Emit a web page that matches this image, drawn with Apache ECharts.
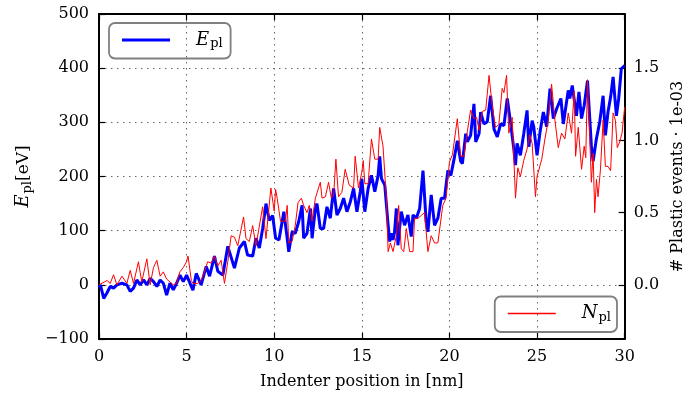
<!DOCTYPE html>
<html><head><meta charset="utf-8">
<script src="https://cdn.jsdelivr.net/npm/echarts@6/dist/echarts.min.js"></script>
<style>html,body{margin:0;padding:0;background:#fff}#c{width:694px;height:395px}</style>
</head><body><div id="c"></div>
<script>
// Indenter position [nm] and plastic energy E_pl [eV]
const eX=[0,0.08,0.27,0.45,0.64,0.83,1.02,1.31,1.59,1.78,1.97,2.16,2.35,2.54,2.73,2.92,3.11,3.3,3.49,3.67,3.86,4.05,4.24,4.43,4.62,4.81,5.0,
5.36,5.55,5.83,6.12,6.31,6.59,6.78,7.07,7.35,7.73,8.01,8.3,8.48,8.77,8.96,9.15,9.34,9.53,9.72,9.91,
10.08,10.27,10.55,10.74,10.83,11.02,11.2,11.4,11.59,11.68,11.87,12.07,12.16,12.35,12.44,12.63,12.82,13.01,13.2,13.39,13.58,13.77,13.96,14.15,14.34,14.53,14.72,14.91,15.0,
15.17,15.36,15.55,15.74,15.93,16.02,16.12,16.31,16.5,16.59,16.69,16.78,16.87,16.97,17.06,17.25,17.44,17.63,17.82,17.92,18.11,18.3,18.49,18.67,18.77,18.96,19.15,19.34,19.53,19.72,19.91,
20.08,20.27,20.45,20.64,20.74,20.93,21.02,21.21,21.4,21.5,21.69,21.78,21.97,22.07,22.16,22.35,22.54,22.73,22.92,23.11,23.3,23.48,23.67,23.77,23.86,24.05,24.24,24.43,24.53,24.72,24.81,25.0,
25.17,25.36,25.55,25.74,25.93,26.12,26.36,26.5,26.78,26.87,27.01,27.25,27.39,27.54,27.69,27.88,28.1,28.2,28.39,28.58,28.77,28.9,29.05,29.2,29.34,29.53,29.66,29.81,30.0];
const eY=[-5,0,-25,-15,-3,-6,0,3,0,-12,-6,9,0,9,0,12,6,-3,9,3,-19,3,-9,3,18,6,18,
-10,21,0,34,16,53,25,18,71,31,68,80,55,53,86,68,104,150,119,128,
86,83,135,86,61,98,95,117,147,86,95,141,86,141,150,104,104,144,123,178,129,141,160,135,153,178,135,172,196,
135,178,202,172,202,237,196,184,110,80,95,83,98,141,73,135,110,129,89,129,123,141,211,117,98,166,110,123,160,160,211,
202,233,266,228,224,279,264,276,334,264,279,319,297,294,301,349,288,273,297,294,344,301,252,221,261,239,279,322,255,303,292,239,
282,319,292,362,307,325,344,297,359,344,368,312,356,307,331,377,257,228,270,301,349,276,319,347,384,312,344,399,405];
// Indenter position [nm] and number of plastic events N_pl [1e-03]
const nX=[0,0.46,0.64,0.83,1.02,1.31,1.59,1.78,1.97,2.25,2.44,2.73,2.92,3.11,3.3,3.49,3.67,3.86,4.05,4.24,4.43,4.62,4.81,5.0,
5.08,5.27,5.36,5.64,5.83,6.02,6.2,6.4,6.59,6.78,6.97,7.16,7.35,7.54,7.73,7.92,8.25,8.39,8.58,8.77,8.96,9.34,9.53,9.81,10.0,
10.08,10.17,10.36,10.64,10.74,10.83,11.02,11.2,11.36,11.55,11.68,11.87,12.0,12.16,12.35,12.63,12.73,12.92,13.1,13.26,13.39,13.52,13.67,13.86,14.05,14.28,14.53,14.62,14.81,15.0,
15.08,15.17,15.36,15.55,15.74,15.93,16.02,16.21,16.4,16.5,16.63,16.78,16.97,17.1,17.25,17.39,17.54,17.73,17.92,18.01,18.2,18.39,18.58,18.77,18.96,19.15,19.34,19.62,19.81,20.0,
20.17,20.27,20.45,20.64,20.83,21.02,21.21,21.4,21.55,21.69,21.88,22.07,22.26,22.44,22.63,22.82,23.01,23.11,23.26,23.39,23.58,23.77,23.9,24.05,24.24,24.43,24.58,24.72,24.91,25.0,
25.27,25.45,25.64,25.83,26.02,26.21,26.4,26.59,26.78,26.97,27.12,27.2,27.35,27.54,27.69,27.78,27.88,28.01,28.1,28.2,28.29,28.39,28.48,28.62,28.77,28.9,29.05,29.2,29.34,29.47,29.58,29.72,29.85,30.0];
const nY=[0,0.03,0.01,0.07,0,0.06,0.01,0.10,0.01,0.16,0.02,0.18,0,0.12,0.17,0.06,0.09,0.04,0.02,0,0.01,0.09,0.12,0.16,
0.20,0.03,0.01,0.01,0.03,0.09,0.16,0.15,0.20,0.13,0.17,0.01,0.16,0.34,0.33,0.27,0.47,0.32,0.30,0.41,0.27,0.54,0.32,0.67,0.51,
0.66,0.60,0.44,0.44,0.55,0.29,0.30,0.41,0.57,0.60,0.55,0.50,0.55,0.44,0.60,0.71,0.60,0.61,0.71,0.60,0.62,0.87,0.61,0.64,0.80,0.69,0.67,0.89,0.67,0.78,
0.86,0.70,0.70,1.01,0.87,0.87,1.09,0.96,0.60,0.23,0.29,0.23,0.34,0.55,0.25,0.23,0.39,0.23,0.23,0.46,0.46,0.48,0.50,0.23,0.34,0.29,0.29,0.55,0.60,0.85,
0.90,0.89,1.15,0.89,0.89,1.06,1.21,1.15,1.16,1.07,1.20,1.21,1.45,1.24,1.09,1.11,1.36,1.33,1.45,1.05,1.16,0.60,0.81,0.75,0.86,0.94,1.04,0.98,0.61,0.75,
0.87,1.01,1.14,1.39,1.14,0.95,1.05,1.01,1.19,1.05,1.34,0.89,1.09,0.80,0.96,0.88,1.42,1.01,0.71,0.91,0.50,0.73,0.61,0.80,1.14,0.82,0.82,0.79,1.19,1.14,0.95,0.99,1.05,1.23];
const rightTicks=[0,0.5,1.0,1.5];

const FF='DejaVu Serif';
const eData=eX.map((x,i)=>[x,eY[i]]);
const nData=nX.map((x,i)=>[x,nY[i]]);
const chart=echarts.init(document.getElementById('c'),null,{renderer:'canvas'});
const tickStyle={show:true,inside:true,length:6,lineStyle:{color:'#000',width:1.2}};
const lineAx={show:true,onZero:false,lineStyle:{color:'#000',width:2}};
const grid={show:true,lineStyle:{color:'#666',type:[1.5,4.5],width:1}};
const rich={
  i:{fontFamily:FF,fontStyle:'italic',fontSize:18,color:'#000'},
  s:{fontFamily:FF,fontSize:13,color:'#000',padding:[8,0,0,1]},
  n:{fontFamily:FF,fontSize:17,color:'#000'}
};
chart.setOption({
  animation:false,
  backgroundColor:'#fff',
  grid:{left:99,right:67,top:14,bottom:54,show:false},
  xAxis:[{
    type:'value',min:0,max:30,interval:5,position:'bottom',
    axisLine:lineAx,axisTick:tickStyle,
    axisLabel:{fontFamily:FF,fontSize:16,color:'#000',margin:10},
    splitLine:grid,
    name:'Indenter position in [nm]',nameLocation:'middle',nameGap:35,
    nameTextStyle:{fontFamily:FF,fontSize:16,color:'#000'}
  },{
    type:'value',min:0,max:30,interval:5,position:'top',
    axisLine:lineAx,axisTick:tickStyle,axisLabel:{show:false},splitLine:{show:false}
  }],
  yAxis:[{
    type:'value',min:-100,max:500,interval:100,position:'left',
    axisLine:lineAx,axisTick:tickStyle,
    axisLabel:{fontFamily:FF,fontSize:16,color:'#000',margin:10,formatter:v=>String(v).replace('-','\u2212')},
    splitLine:grid,
    name:'{i|E}{s|pl}{n|[eV]}',nameLocation:'middle',nameGap:56,nameRotate:90,
    nameTextStyle:{rich:rich}
  },{
    type:'value',min:-0.375,max:1.875,position:'right',alignTicks:false,
    axisLine:lineAx,
    axisTick:Object.assign({},tickStyle,{customValues:rightTicks}),
    axisLabel:{fontFamily:FF,fontSize:16,color:'#000',margin:9,customValues:rightTicks,formatter:v=>v.toFixed(1)},
    splitLine:{show:false},
    name:'# Plastic events \u00b7 1e-03',nameLocation:'middle',nameGap:34,nameRotate:90,
    nameTextStyle:{fontFamily:FF,fontSize:16,color:'#000'}
  }],
  legend:[{
    data:['E_pl'],left:109,top:23,orient:'horizontal',
    padding:[8,8,8,13],borderColor:'#808080',borderWidth:1.8,borderRadius:6,
    icon:'rect',itemWidth:48,itemHeight:3,itemStyle:{color:'#0000ff'},
    formatter:()=>'{i|E}{s|pl}',
    textStyle:{rich:rich,padding:[0,0,0,21]}
  },{
    data:['N_pl'],right:77,bottom:63,orient:'horizontal',
    padding:[8,6,8,13],borderColor:'#808080',borderWidth:1.8,borderRadius:6,
    icon:'rect',itemWidth:48,itemHeight:1.5,itemStyle:{color:'#ff0000'},
    formatter:()=>'{i|N}{s|pl}',
    textStyle:{rich:rich,padding:[0,0,0,21]}
  }],
  series:[{
    name:'E_pl',type:'line',xAxisIndex:0,yAxisIndex:0,data:eData,
    showSymbol:false,symbol:'none',lineStyle:{color:'#0000ff',width:3},itemStyle:{color:'#0000ff'},z:2
  },{
    name:'N_pl',type:'line',xAxisIndex:0,yAxisIndex:1,data:nData,
    showSymbol:false,symbol:'none',lineStyle:{color:'#ff0000',width:1},itemStyle:{color:'#ff0000'},z:3
  }]
});
</script></body></html>
